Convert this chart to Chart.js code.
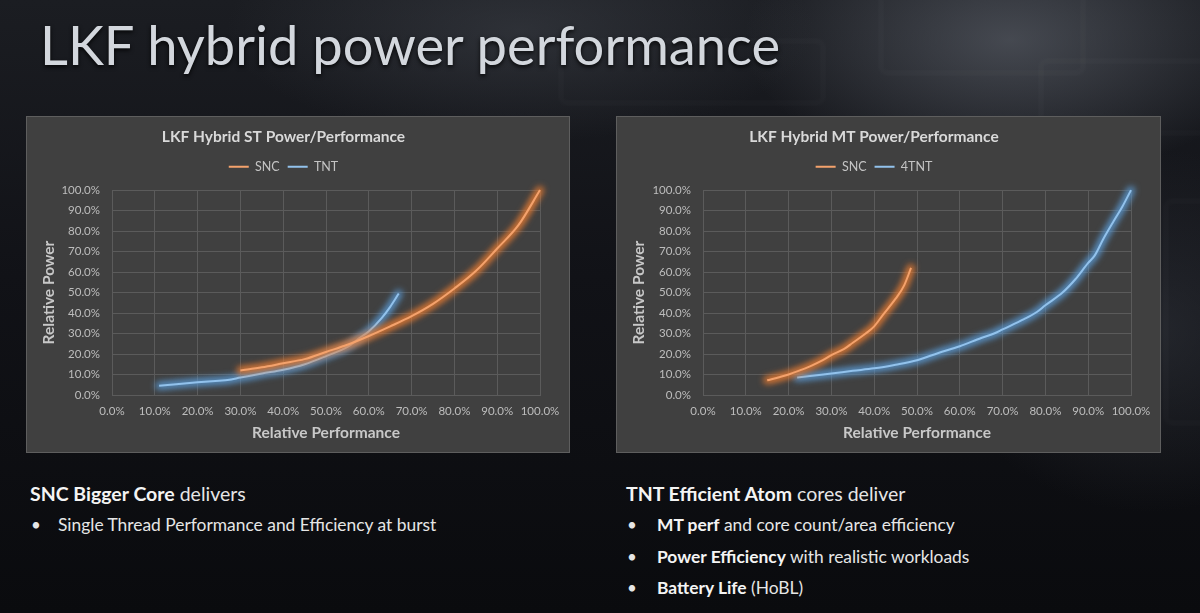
<!DOCTYPE html>
<html>
<head>
<meta charset="utf-8">
<script src="https://cdn.jsdelivr.net/npm/chart.js@4.4.0/dist/chart.umd.min.js"></script>
<style>
  html, body { margin: 0; padding: 0; }
  body {
    width: 1200px; height: 613px; overflow: hidden; position: relative;
    font-family: Lato, "Open Sans", sans-serif;
    background:
      radial-gradient(ellipse 380px 200px at 1010px 40px, rgba(105,110,120,0.55), rgba(0,0,0,0) 70%),
      radial-gradient(ellipse 420px 160px at 520px 30px, rgba(70,74,82,0.45), rgba(0,0,0,0) 70%),
      radial-gradient(ellipse 300px 260px at 1150px 330px, rgba(60,64,72,0.45), rgba(0,0,0,0) 70%),
      linear-gradient(180deg, #1b1d22 0%, #111217 45%, #0a0b0e 100%);
  }
  .deco { position: absolute; border: 2px solid rgba(255,255,255,0.05); border-radius: 6px; filter: blur(2px); }
  h1 {
    position: absolute; left: 40px; top: 17px; margin: 0;
    font-size: 54.3px; font-weight: 400; line-height: 1;
    color: #d3d7dd; text-shadow: 0 2px 4px rgba(0,0,0,0.85);
  }
  .panel { position: absolute; top: 117px; height: 335px; background: #404040; box-shadow: 0 0 0 1px #5e5e5e; }
  .panel canvas { display: block; }
  .txt { position: absolute; color: #e6e6e6; white-space: nowrap; }
  .txt b { color: #f4f4f4; font-weight: 700; }
  .head { font-size: 19.5px; }
  .item { font-size: 17.4px; }
  .bullet { position: absolute; font-size: 17px; color: #e6e6e6; }
</style>
</head>
<body>
<div class="deco" style="left:880px;top:-20px;width:200px;height:90px;"></div>
<div class="deco" style="left:1040px;top:60px;width:180px;height:70px;"></div>
<div class="deco" style="left:560px;top:40px;width:260px;height:60px;"></div>
<div class="deco" style="left:1165px;top:200px;width:60px;height:220px;"></div>

<h1>LKF hybrid power performance</h1>

<div class="panel" style="left:27px;width:542px;"><canvas id="stChart" width="542" height="335"></canvas></div>
<div class="panel" style="left:617px;width:543px;"><canvas id="mtChart" width="543" height="335"></canvas></div>

<div class="txt head" style="left:30px;top:482px;"><b>SNC Bigger Core</b> delivers</div>
<div class="bullet" style="left:31px;top:514px;">•</div>
<div class="txt item" style="left:58px;top:514px;">Single Thread Performance and Efficiency at burst</div>

<div class="txt head" style="left:626px;top:482px;"><b>TNT Efficient Atom</b> cores deliver</div>
<div class="bullet" style="left:627px;top:514px;">•</div>
<div class="txt item" style="left:657px;top:514px;"><b>MT perf</b> and core count/area efficiency</div>
<div class="bullet" style="left:627px;top:546px;">•</div>
<div class="txt item" style="left:657px;top:546px;"><b>Power Efficiency</b> with realistic workloads</div>
<div class="bullet" style="left:627px;top:577px;">•</div>
<div class="txt item" style="left:657px;top:577px;"><b>Battery Life</b> (HoBL)</div>

<script>
// ST chart (relative performance %, relative power %)
const stSncPerf = [30, 35, 40, 45, 50, 55, 60, 65, 70, 75, 80, 85, 90, 95, 100];
const stSncPower = [12, 13.5, 15.5, 17.5, 21, 24.5, 28.8, 33.5, 38.5, 44.5, 52, 60.5, 71.5, 83, 100];
const stTntPerf = [11, 15, 20, 25, 27, 30, 35, 40, 45, 50, 55, 58, 60, 63, 65, 67];
const stTntPower = [4.5, 5.3, 6.2, 7, 7.3, 8.5, 10.5, 12.3, 15, 19, 23.5, 28, 31, 37.5, 43, 49.5];

// MT chart
const mtSncPerf = [15, 18, 20, 22, 25, 28, 30, 33, 35, 38, 40, 42, 45, 47, 48.6];
const mtSncPower = [7.2, 8.8, 10, 11.5, 14, 17, 19.5, 22.5, 25.5, 30, 33.5, 39, 47, 53.5, 62];
const mtTntPerf = [22, 25, 30, 35, 40, 45, 50, 55, 60, 65, 68, 70, 75, 78, 80, 84, 87, 90, 91.5, 93.5, 96, 98, 100];
const mtTntPower = [8.5, 9.3, 10.5, 11.8, 13, 14.8, 17, 20.5, 23.8, 27.8, 30, 32, 37, 40.5, 43.8, 50, 56.5, 64.5, 68, 76, 85, 92, 100];

const axisTicks = [0, 10, 20, 30, 40, 50, 60, 70, 80, 90, 100];

Chart.defaults.font.family = 'Lato, "Open Sans", sans-serif';

const toPoints = (xs, ys) => xs.map((x, i) => ({ x: x, y: ys[i] }));

// outer glow round each line, like on the slide: a blurred wide stroke of the same path underneath
const glow = {
    id: 'glow',
    beforeDatasetDraw(chart, args) {
        const ds = chart.data.datasets[args.index];
        const ctx = chart.ctx;
        ctx.save();
        ctx.filter = 'blur(3px)';
        ctx.lineJoin = 'round';
        ctx.lineCap = 'round';
        ctx.strokeStyle = ds.glowColor;
        ctx.lineWidth = 8;
        ctx.globalAlpha = 0.75;
        ctx.beginPath();
        args.meta.dataset.path(ctx);
        ctx.stroke();
        ctx.restore();
        ctx.save();
        ctx.shadowColor = ds.glowColor;
        ctx.shadowBlur = 6;
    },
    afterDatasetDraw(chart) {
        chart.ctx.restore();
    }
};

function line(label, pts, color, glowColor) {
    return {
        label: label,
        data: pts,
        borderColor: color,
        backgroundColor: color,
        glowColor: glowColor,
        borderWidth: 2,
        pointRadius: 0,
        cubicInterpolationMode: 'monotone',
        clip: false
    };
}

function makeChart(id, title, datasets, leftW) {
    const tickFmt = v => v.toFixed(1) + '%';
    return new Chart(document.getElementById(id), {
        type: 'line',
        data: { datasets: datasets },
        plugins: [glow],
        options: {
            responsive: false,
            animation: false,
            layout: { padding: { left: 0, right: 29, top: 0, bottom: 0 } },
            plugins: {
                title: {
                    display: true, text: title, color: '#d9d9d9',
                    font: { size: 15.5, weight: 'bold' },
                    padding: { top: 11, bottom: 6 }
                },
                // empty spacer below the legend so the plot starts at the right height
                subtitle: {
                    display: true, text: '', weight: 500,
                    font: { size: 5 }, padding: { top: 1, bottom: 0 }
                },
                legend: {
                    labels: {
                        color: '#c4c4c4', font: { size: 12.5 },
                        usePointStyle: true, pointStyle: 'line', pointStyleWidth: 20,
                        padding: 8
                    }
                },
                tooltip: { enabled: false }
            },
            scales: {
                x: {
                    type: 'linear', min: 0, max: 100,
                    afterBuildTicks: s => { s.ticks = axisTicks.map(v => ({ value: v })); },
                    afterFit: s => { s.height = 57; },
                    ticks: { callback: tickFmt, color: '#bdbdbd', font: { size: 11.5 }, padding: 9, maxRotation: 0, autoSkip: false },
                    grid: { color: '#5b5b5b', drawTicks: false },
                    border: { color: '#5b5b5b' },
                    title: { display: true, text: 'Relative Performance', color: '#c8c8c8', font: { size: 15.5, weight: 'bold' }, padding: { top: 0, bottom: 10 } }
                },
                y: {
                    type: 'linear', min: 0, max: 100,
                    afterBuildTicks: s => { s.ticks = axisTicks.map(v => ({ value: v })); },
                    afterFit: s => { s.width = leftW; },
                    ticks: { callback: tickFmt, color: '#bdbdbd', font: { size: 11.5 }, padding: 12 },
                    grid: { color: '#5b5b5b', drawTicks: false },
                    border: { color: '#5b5b5b' },
                    title: { display: true, text: 'Relative Power', color: '#c8c8c8', font: { size: 15.5, weight: 'bold' }, padding: { top: 13, bottom: 0 } }
                }
            }
        }
    });
}

makeChart('stChart', 'LKF Hybrid ST Power/Performance', [
    line('SNC', toPoints(stSncPerf, stSncPower), '#f4a26c', 'rgba(237,125,49,1)'),
    line('TNT', toPoints(stTntPerf, stTntPower), '#92c2ec', 'rgba(91,155,213,1)')
], 85);

makeChart('mtChart', 'LKF Hybrid MT Power/Performance', [
    line('SNC', toPoints(mtSncPerf, mtSncPower), '#f4a26c', 'rgba(237,125,49,1)'),
    line('4TNT', toPoints(mtTntPerf, mtTntPower), '#92c2ec', 'rgba(91,155,213,1)')
], 86);
</script>
</body>
</html>
